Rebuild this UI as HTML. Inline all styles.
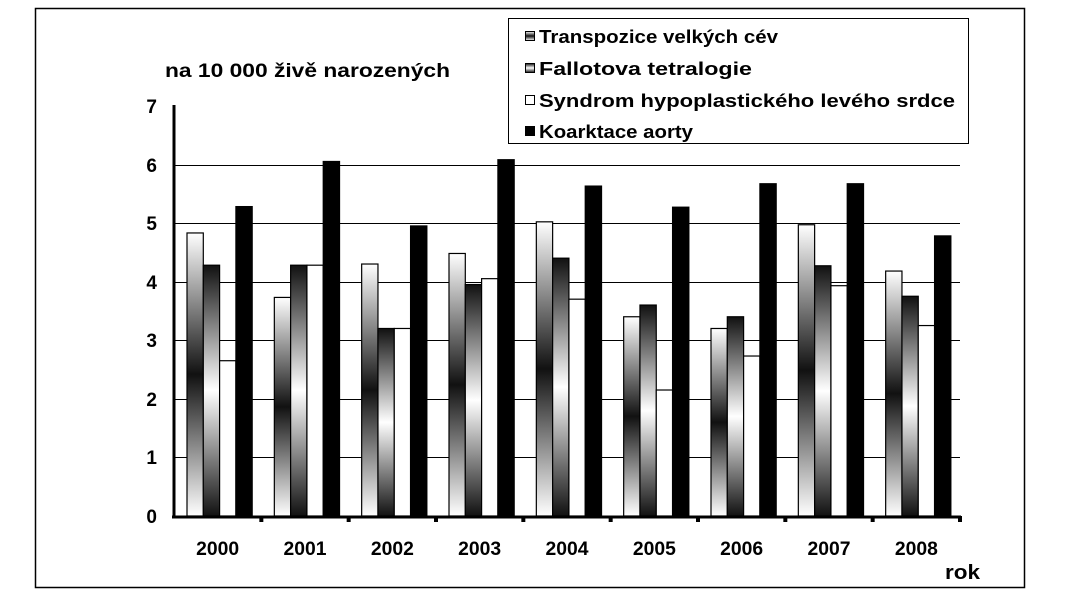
<!DOCTYPE html>
<html><head><meta charset="utf-8"><style>
body{margin:0;background:#fff;}
svg{display:block;font-family:"Liberation Sans",sans-serif;font-weight:bold;}
</style></head><body>
<svg width="1077" height="604" viewBox="0 0 1077 604">
<defs>
<linearGradient id="g1" x1="0" y1="0" x2="0" y2="1">
<stop offset="0" stop-color="#fff"/><stop offset="0.5" stop-color="#111"/><stop offset="1" stop-color="#fff"/>
</linearGradient>
<linearGradient id="g2" x1="0" y1="0" x2="0" y2="1">
<stop offset="0" stop-color="#111"/><stop offset="0.5" stop-color="#fff"/><stop offset="1" stop-color="#111"/>
</linearGradient>
</defs>
<rect x="35.5" y="8.5" width="989" height="579" fill="#fff" stroke="#000" stroke-width="1.5"/>
<g stroke="#000" stroke-width="1">
<line x1="174" y1="165.5" x2="960" y2="165.5"/>
<line x1="174" y1="223.5" x2="960" y2="223.5"/>
<line x1="174" y1="282.5" x2="960" y2="282.5"/>
<line x1="174" y1="340.5" x2="960" y2="340.5"/>
<line x1="174" y1="399.5" x2="960" y2="399.5"/>
<line x1="174" y1="457.5" x2="960" y2="457.5"/>
</g>
<g id="bars" stroke="#000" stroke-width="1.2"></g>
<g stroke="#000" stroke-width="3">
<line x1="174" y1="105" x2="174" y2="518"/>
<line x1="172" y1="517" x2="961" y2="517"/>
</g>
<g id="ticks" fill="#000"></g>
<g font-size="19" text-anchor="end">
<text x="157" y="523">0</text><text x="157" y="464">1</text><text x="157" y="406">2</text><text x="157" y="347">3</text><text x="157" y="289">4</text><text x="157" y="230">5</text><text x="157" y="172">6</text><text x="157" y="113">7</text>
</g>
<text x="165" y="77" font-size="19" textLength="285" lengthAdjust="spacingAndGlyphs">na 10 000 živě narozených</text>
<g id="xl" font-size="19" text-anchor="middle"></g>
<text x="945" y="579" font-size="20" textLength="35" lengthAdjust="spacingAndGlyphs">rok</text>
<rect x="508.5" y="18.5" width="460" height="125" fill="#fff" stroke="#000" stroke-width="1"/>
<g font-size="18">
<rect x="525.5" y="31.5" width="9" height="9" fill="url(#g1)" stroke="#000"/><text x="539" y="43" textLength="239" lengthAdjust="spacingAndGlyphs">Transpozice velkých cév</text>
<rect x="525.5" y="63.5" width="9" height="9" fill="url(#g2)" stroke="#000"/><text x="539" y="75" textLength="213" lengthAdjust="spacingAndGlyphs">Fallotova tetralogie</text>
<rect x="525.5" y="95.5" width="9" height="9" fill="#fff" stroke="#000"/><text x="539" y="107" textLength="416" lengthAdjust="spacingAndGlyphs">Syndrom hypoplastického levého srdce</text>
<rect x="525.5" y="126.5" width="9" height="9" fill="#000" stroke="#000"/><text x="539" y="138" textLength="154" lengthAdjust="spacingAndGlyphs">Koarktace aorty</text>
</g>
<script>
var d=[[4.83,4.28,2.65,5.28],[3.73,4.28,4.28,6.05],[4.3,3.2,3.2,4.95],[4.48,3.95,4.05,6.08],[5.02,4.4,3.7,5.63],[3.4,3.6,2.15,5.27],[3.2,3.4,2.73,5.67],[4.97,4.27,3.93,5.67],[4.18,3.75,3.25,4.78]];
var f=["url(#g1)","url(#g2)","#fff","#000"];var ns="http://www.w3.org/2000/svg";
var b=document.getElementById("bars"),t=document.getElementById("ticks"),xl=document.getElementById("xl");
var P=(960-174)/9;
for(var i=0;i<9;i++){var x0=174+i*P+13;
for(var j=0;j<4;j++){var h=d[i][j]*58.6;var r=document.createElementNS(ns,"rect");
r.setAttribute("x",x0+j*16.3);r.setAttribute("y",516-h);r.setAttribute("width",16.3);r.setAttribute("height",h);r.setAttribute("fill",f[j]);b.appendChild(r);}
var k=document.createElementNS(ns,"rect");k.setAttribute("x",174+(i+1)*P-2);k.setAttribute("y",516);k.setAttribute("width",4);k.setAttribute("height",6);t.appendChild(k);
var tx=document.createElementNS(ns,"text");tx.setAttribute("x",174+(i+0.5)*P);tx.setAttribute("y",555);tx.setAttribute("textLength",43);tx.setAttribute("lengthAdjust","spacingAndGlyphs");tx.textContent=2000+i;xl.appendChild(tx);}
</script>
</svg>
</body></html>
